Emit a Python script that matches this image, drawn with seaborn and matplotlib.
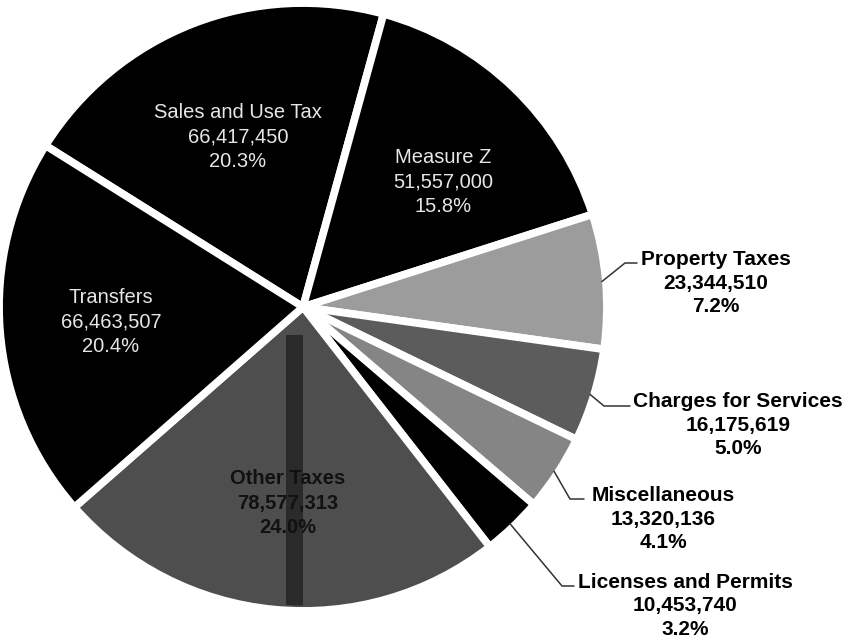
import matplotlib
matplotlib.use("Agg")
import matplotlib.pyplot as plt
import seaborn as sns
import numpy as np
from matplotlib.patches import Rectangle, Wedge

# ---- data ----
categories = ["Sales and Use Tax", "Measure Z", "Property Taxes",
              "Charges for Services", "Miscellaneous", "Licenses and Permits",
              "Other Taxes", "Transfers"]
amounts = [66417450, 51557000, 23344510, 16175619, 13320136, 10453740,
           78577313, 66463507]
amount_labels = ["66,417,450", "51,557,000", "23,344,510", "16,175,619",
                 "13,320,136", "10,453,740", "78,577,313", "66,463,507"]
pct_labels = ["20.3%", "15.8%", "7.2%", "5.0%", "4.1%", "3.2%", "24.0%", "20.4%"]

# ---- style ----
sns.set_theme(style="white")
plt.rcParams["font.family"] = ["Liberation Sans", "DejaVu Sans"]

colors = ["#000000", "#000000", "#9c9c9c", "#5c5c5c", "#858585",
          "#000000", "#4e4e4e", "#000000"]

W, H = 847, 641
CX, CY, R = 303, 307, 300  # pie centre / radius in pixels


def px(x, y):
    return ((x - CX) / R, (CY - y) / R)


fig = plt.figure(figsize=(W / 100, H / 100), dpi=100)
ax = fig.add_axes([0, 0, 1, 1])

wedges, _ = ax.pie(amounts, colors=colors, startangle=147.9, counterclock=False,
                   radius=1.013,
                   wedgeprops=dict(edgecolor="white", linewidth=5.5))
ax.set_xlim(-CX / R, (W - CX) / R)
ax.set_ylim((CY - H) / R, CY / R)
ax.set_aspect("equal")
ax.axis("off")

# darker scan stripe inside "Other Taxes", kept inside the slice (clear of the white gaps)
ow = wedges[6]
clip = Wedge((0, 0), 0.995, ow.theta1 + 1.2, ow.theta2 - 1.2, transform=ax.transData)
x0, y0 = px(286, H)
x1, y1 = px(303, 335)
stripe = Rectangle((x0, y0), x1 - x0, y1 - y0, facecolor="#1c1c1c",
                   edgecolor="none", alpha=0.7, zorder=2)
ax.add_patch(stripe)
stripe.set_clip_path(clip)

# ---- labels ----
layout = {
    "Sales and Use Tax": dict(pos=(238, 137), inner=True, color="#e6e6e6", bold=False),
    "Measure Z": dict(pos=(443, 182), inner=True, color="#e6e6e6", bold=False),
    "Transfers": dict(pos=(111, 322), inner=True, color="#e6e6e6", bold=False),
    "Other Taxes": dict(pos=(288, 503), inner=True, color="#111111", bold=True),
    "Property Taxes": dict(pos=(716, 283), inner=False, bend=(625, 263), end=(637, 263)),
    "Charges for Services": dict(pos=(738, 425), inner=False, bend=(604, 406), end=(630, 406)),
    "Miscellaneous": dict(pos=(663, 519), inner=False, bend=(570, 499), end=(584, 499)),
    "Licenses and Permits": dict(pos=(685, 606), inner=False, bend=(562, 586), end=(574, 586)),
}

for i, cat in enumerate(categories):
    L = layout[cat]
    text = f"{cat}\n{amount_labels[i]}\n{pct_labels[i]}"
    x, y = px(*L["pos"])
    if L["inner"]:
        ax.text(x, y, text, ha="center", va="center", fontsize=14.5,
                color=L["color"], fontweight="bold" if L["bold"] else "normal",
                linespacing=1.38, zorder=5)
    else:
        ax.text(x, y, text, ha="center", va="center", fontsize=15,
                color="black", fontweight="bold", linespacing=1.3, zorder=5)
        w = wedges[i]
        mid = np.deg2rad((w.theta1 + w.theta2) / 2)
        sx, sy = np.cos(mid) * 1.0, np.sin(mid) * 1.0
        bx, by = px(*L["bend"])
        ex, ey = px(*L["end"])
        ax.plot([sx, bx, ex], [sy, by, ey], color="#333333", lw=1.1,
                solid_joinstyle="round", zorder=4, clip_on=False)

fig.savefig("out.png", dpi=100, facecolor="white")
